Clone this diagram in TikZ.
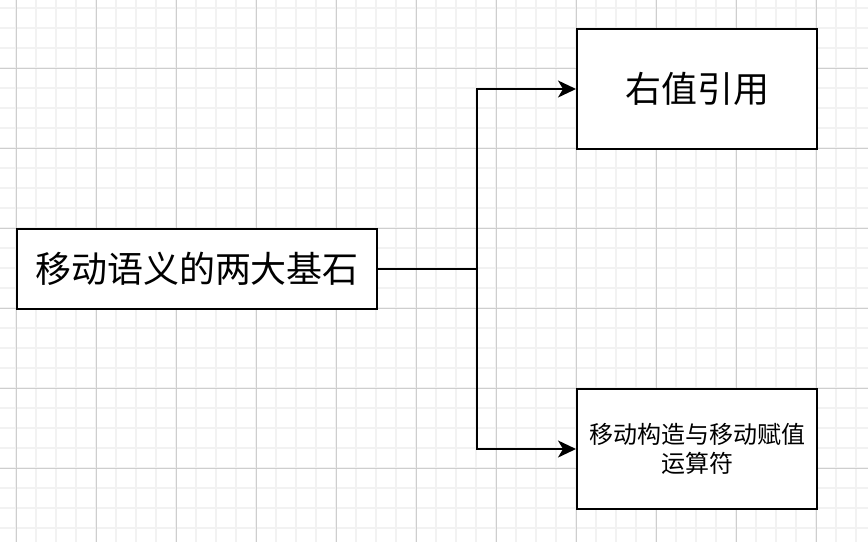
\documentclass[tikz,border=0pt]{standalone}
\usepackage{fontspec}
\setmainfont{Noto Sans CJK SC}
\usetikzlibrary{arrows.meta}
\definecolor{minorgrid}{RGB}{242,242,242}
\definecolor{majorgrid}{RGB}{206,206,206}
\tikzset{
  box/.style={draw=black, line width=2pt, fill=white, inner sep=0pt, align=center, text=black},
  conn/.style={draw=black, line width=2pt},
  arr/.style={conn, -{Stealth[length=18pt,width=17pt,inset=5pt]}}
}
\begin{document}
\begin{tikzpicture}[x=1pt,y=-1pt]
\useasboundingbox (0,0) rectangle (868,542);
\fill[white] (0,0) rectangle (868,542);
% minor grid
\foreach \x in {16,36,...,856} \draw[minorgrid, line width=1.5pt] (\x,0) -- (\x,542);
\foreach \y in {8,28,...,528} \draw[minorgrid, line width=1.5pt] (0,\y) -- (868,\y);
% major grid
\foreach \x in {16,96,...,816} \draw[majorgrid, line width=1pt] (\x,0) -- (\x,542);
\foreach \y in {68,148,...,468} \draw[majorgrid, line width=1pt] (0,\y) -- (868,\y);
% nodes
\node[box, minimum width=360pt, minimum height=80pt, font=\fontsize{36}{43}\selectfont] (L) at (197,269) {移动语义的两大基石};
\node[box, minimum width=240pt, minimum height=120pt, font=\fontsize{36}{43}\selectfont] (A) at (697,89) {右值引用};
\node[box, minimum width=240pt, minimum height=120pt, font=\fontsize{24}{29}\selectfont] (B) at (697,449) {移动构造与移动赋值\\运算符};
% connectors
\coordinate (J) at (477,269);
\draw[conn] (L.east) -- (J);
\draw[arr] (J) |- (A.west);
\draw[arr] (J) |- (B.west);
\end{tikzpicture}
\end{document}
